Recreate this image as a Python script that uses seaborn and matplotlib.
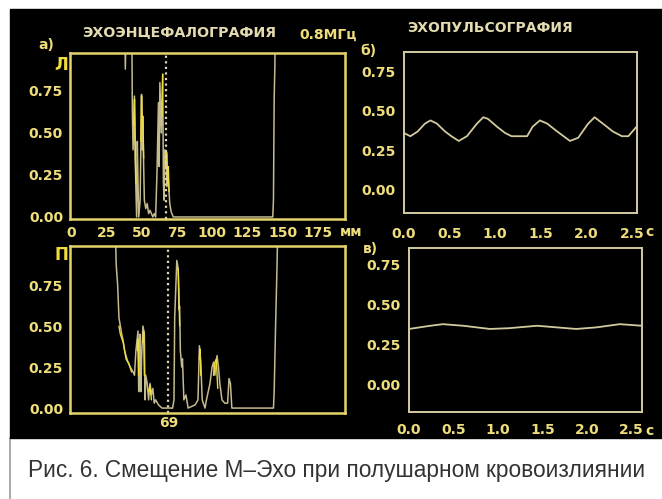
import numpy as np
import pandas as pd
import matplotlib
matplotlib.use("Agg")
import matplotlib.pyplot as plt
import seaborn as sns
from matplotlib.patches import Rectangle
from matplotlib.lines import Line2D

sns.set_style("dark")
plt.rcParams['font.family'] = ['DejaVu Sans']

# ---------------- data ----------------
# (а) echoencephalogram, left hemisphere, x in mm, amplitude (values > 1 are off-scale)
echo_a_mm = [0, 38, 38.5, 39.5, 43, 43.5, 44, 45, 45.5, 46.5, 47, 47.5, 48, 49, 50, 50.5, 51, 51.5,
             52, 53, 54, 55, 56, 58, 59, 60, 61, 62, 62.5, 63, 64, 65, 65.5, 66, 66.5, 67.5,
             68, 69, 70, 71, 72.5, 143, 143.5, 144, 144.5, 145, 194]
echo_a_val = [1.3, 1.3, 0.88, 1.3, 1.3, 0.62, 0.4, 0.72, 0.35, 0.0, 0.45, 0.2, 0.0, 0.1, 0.73, 0.4,
              0.6, 0.3, 0.1, 0.05, 0.08, 0.02, 0.04, 0.0, 0.02, 0.0, 0.28, 0.68, 0.3, 0.8, 0.5, 0.85,
              0.2, 0.1, 0.4, 0.39, 0.18, 0.22, 0.08, 0.03, 0.0, 0.0, 0.1, 0.7, 0.9, 1.3, 1.3]
# bright-yellow overdrawn fragments (segment id, mm, amplitude)
echo_a_yel_seg = [1, 1, 1, 1, 2, 2, 2, 2, 2, 3, 3, 4, 4, 4, 4, 4, 4]
echo_a_yel_mm = [44.5, 45, 45.5, 46, 49.5, 50, 50.5, 51, 51.5, 64.5, 65, 67, 67.5, 68, 68.5, 69, 69.5]
echo_a_yel_val = [0.55, 0.7, 0.45, 0.2, 0.45, 0.72, 0.6, 0.55, 0.35, 0.6, 0.85, 0.3, 0.39, 0.38, 0.2, 0.3, 0.15]
mid_a_mm = 67

# (П) echoencephalogram, right hemisphere
echo_b_mm = [0, 31, 32, 33, 34, 35, 36, 37, 38, 40, 42, 44, 45, 46, 47.5, 48, 48.5, 49, 49.5, 50,
             51, 52, 52.5, 53, 54, 55, 56, 57, 58, 59, 60, 62, 64.5, 72, 73, 73.5, 75, 76, 76.5,
             77, 77.5, 78.5, 79, 80, 81.5, 83, 88, 90, 91, 92, 93, 95, 96, 98.5, 100, 101, 102,
             103.5, 104.5, 105.5, 107, 109, 111, 112, 113, 114, 143.5, 144, 145, 146, 147, 194]
echo_b_val = [1.3, 1.3, 0.88, 0.76, 0.55, 0.5, 0.45, 0.41, 0.35, 0.29, 0.25, 0.22, 0.2, 0.35, 0.47,
              0.1, 0.35, 0.45, 0.1, 0.3, 0.5, 0.45, 0.05, 0.2, 0.15, 0.05, 0.15, 0.08, 0.12, 0.03,
              0.05, 0.02, 0.0, 0.0, 0.05, 0.55, 0.9, 0.85, 0.6, 0.62, 0.35, 0.25, 0.3, 0.05, 0.08,
              0.0, 0.02, 0.05, 0.38, 0.28, 0.05, 0.0, 0.05, 0.15, 0.25, 0.28, 0.2, 0.32, 0.25,
              0.15, 0.05, 0.03, 0.03, 0.18, 0.15, 0.0, 0.0, 0.1, 0.5, 0.86, 1.3, 1.3]
echo_b_yel_seg = [1, 1, 1, 1, 1, 1, 2, 2, 2, 3, 3, 3, 4, 4, 4, 5, 5, 5, 5, 6, 6, 6, 7, 7, 7, 7]
echo_b_yel_mm = [34, 35, 37, 39, 41, 43, 47, 47.5, 48, 51, 51.5, 52, 55, 56, 57, 75.5, 76, 76.5, 77,
                 91, 91.5, 92, 101, 102, 103, 104]
echo_b_yel_val = [0.5, 0.45, 0.4, 0.3, 0.27, 0.22, 0.35, 0.42, 0.2, 0.4, 0.47, 0.2, 0.1, 0.14, 0.05,
                  0.85, 0.84, 0.7, 0.5, 0.3, 0.36, 0.2, 0.2, 0.28, 0.3, 0.12]
mid_b_mm = 69

# (б) echopulsogram before, time in s
pulse_b_t = [0.0, 0.07, 0.15, 0.23, 0.29, 0.36, 0.45, 0.52, 0.6, 0.69, 0.8, 0.87, 0.92, 1.02, 1.11,
             1.18, 1.35, 1.41, 1.49, 1.57, 1.68, 1.75, 1.82, 1.91, 2.02, 2.09, 2.18, 2.29, 2.39,
             2.46, 2.55]
pulse_b_v = [0.36, 0.34, 0.37, 0.42, 0.44, 0.42, 0.37, 0.34, 0.31, 0.34, 0.42, 0.46, 0.45, 0.40, 0.36,
             0.34, 0.34, 0.40, 0.44, 0.42, 0.37, 0.34, 0.31, 0.33, 0.42, 0.46, 0.42, 0.37, 0.34,
             0.34, 0.40]

# (в) echopulsogram after
pulse_c_t = [0.0, 0.24, 0.38, 0.61, 0.91, 1.13, 1.44, 1.66, 1.88, 2.11, 2.37, 2.62]
pulse_c_v = [0.35, 0.37, 0.38, 0.37, 0.35, 0.355, 0.37, 0.36, 0.35, 0.36, 0.38, 0.37]

y_ticks = [0.0, 0.25, 0.5, 0.75]
mm_ticks = [0, 25, 50, 75, 100, 125, 150, 175]
s_ticks = [0.0, 0.5, 1.0, 1.5, 2.0, 2.5]

# ---------------- figure ----------------
W, H = 662, 499
fig = plt.figure(figsize=(W / 100, H / 100), dpi=100, facecolor='white')
fig.patches.append(Rectangle((10 / W, 1 - 438 / H), 652 / W, 429 / H,
                             transform=fig.transFigure, color='black', zorder=-10))
fig.lines.append(Line2D([10 / W, 10 / W], [0, 1 - 438 / H], transform=fig.transFigure,
                        color='#9a9a9a', lw=1.2, zorder=-10))

def pos(x0, y0, x1, y1):
    return [x0 / W, 1 - y1 / H, (x1 - x0) / W, (y1 - y0) / H]

LABEL = '#eedd7a'
GOLD = '#e6d46a'
PALE = '#d4cba2'
TRACE = '#c4bb8e'
YEL = '#f0dc3c'
tick_font = dict(family='DejaVu Sans', weight='bold', size=10)

def style(ax, frame, lw):
    ax.set_facecolor('black')
    for s in ax.spines.values():
        s.set_visible(True)
        s.set_color(frame)
        s.set_linewidth(lw)
    ax.tick_params(colors=frame, labelcolor=LABEL, length=3, width=1, pad=2)
    ax.set_xlabel('')
    ax.set_ylabel('')
    ax.grid(False)
    for lab in ax.get_xticklabels() + ax.get_yticklabels():
        lab.set_fontproperties(matplotlib.font_manager.FontProperties(**tick_font))

def ylabs(ax):
    ax.set_yticks(y_ticks)
    ax.set_yticklabels([f"{v:.2f}" for v in y_ticks])

def echo_panel(ax, mm, val, yseg, ymm, yval, mid):
    sns.lineplot(x=mm, y=val, ax=ax, color=TRACE, lw=1.1, estimator=None, sort=False)
    ydf = pd.DataFrame({'seg': yseg, 'mm': ymm, 'val': yval})
    sns.lineplot(data=ydf, x='mm', y='val', units='seg', ax=ax, color=YEL, lw=1.0,
                 estimator=None, sort=False, legend=False)
    ax.axvline(mid, color='#ddd6b8', ls=(0, (1, 1.5)), lw=1.6)
    ax.set_xlim(-0.7, 194.2)

# Panel а
axA = fig.add_axes(pos(70, 53, 345, 219))
echo_panel(axA, echo_a_mm, echo_a_val, echo_a_yel_seg, echo_a_yel_mm, echo_a_yel_val, mid_a_mm)
axA.set_ylim(-0.012, 0.976)
ylabs(axA)
axA.set_xticks(mm_ticks)
axA.set_xticklabels([str(t) for t in mm_ticks])
style(axA, GOLD, 1.8)
axA.tick_params(axis='x', pad=2)

# Panel П
axB = fig.add_axes(pos(70, 246, 345, 413))
echo_panel(axB, echo_b_mm, echo_b_val, echo_b_yel_seg, echo_b_yel_mm, echo_b_yel_val, mid_b_mm)
axB.set_ylim(-0.03, 0.988)
ylabs(axB)
axB.set_xticks([mid_b_mm])
axB.set_xticklabels([str(mid_b_mm)])
style(axB, GOLD, 1.8)
axB.tick_params(axis='x', length=0, pad=2)

# Panel б
axC = fig.add_axes(pos(404, 52, 637, 213))
sns.lineplot(x=pulse_b_t, y=pulse_b_v, ax=axC, color='#d2ca9e', lw=1.3, estimator=None, sort=False)
axC.set_xlim(0, 2.555)
axC.set_ylim(-0.146, 0.873)
ylabs(axC)
axC.set_xticks(s_ticks)
axC.set_xticklabels([f"{t:.1f}" for t in s_ticks])
style(axC, PALE, 1.4)
axC.tick_params(length=0, pad=6)
axC.tick_params(axis='x', pad=10)

# Panel в
axD = fig.add_axes(pos(409, 248, 642, 412))
sns.lineplot(x=pulse_c_t, y=pulse_c_v, ax=axD, color='#d2ca9e', lw=1.3, estimator=None, sort=False)
axD.set_xlim(0, 2.62)
axD.set_ylim(-0.169, 0.856)
ylabs(axD)
axD.set_xticks(s_ticks)
axD.set_xticklabels([f"{t:.1f}" for t in s_ticks])
style(axD, PALE, 1.4)
axD.tick_params(length=0, pad=6)
axD.tick_params(axis='x', pad=8)

# ---------------- texts ----------------
def ftext(x, y, s, **kw):
    fig.text(x / W, 1 - y / H, s, va='center', zorder=10, **kw)

bold = dict(fontweight='bold', family='DejaVu Sans')
ftext(38, 45, 'а)', color=LABEL, fontsize=10, **bold)
ftext(82, 32, 'ЭХОЭНЦЕФАЛОГРАФИЯ', color='#e4dcb0', fontsize=10.2, **bold)
ftext(299, 35, '0.8МГц', color=LABEL, fontsize=10, **bold)
ftext(360, 51, 'б)', color=LABEL, fontsize=10, **bold)
ftext(407, 28, 'ЭХОПУЛЬСОГРАФИЯ', color='#e4dcb0', fontsize=10, **bold)
ftext(363, 249, 'в)', color=LABEL, fontsize=10, **bold)
ftext(61, 65, 'Л', color=YEL, fontsize=12, ha='center', **bold)
ftext(61, 255, 'П', color=YEL, fontsize=12, ha='center', **bold)
ftext(340, 232, 'мм', color=LABEL, fontsize=10, **bold)
ftext(645, 232, 'с', color=LABEL, fontsize=10, **bold)
ftext(645, 431, 'с', color=LABEL, fontsize=10, **bold)

fig.text(28 / W, 1 - 471 / H, 'Рис. 6. Смещение М–Эхо при полушарном кровоизлиянии',
         va='center', ha='left', color='#333333', fontsize=16.3, family='Liberation Sans')

fig.savefig('out.png', dpi=100, facecolor='white')
